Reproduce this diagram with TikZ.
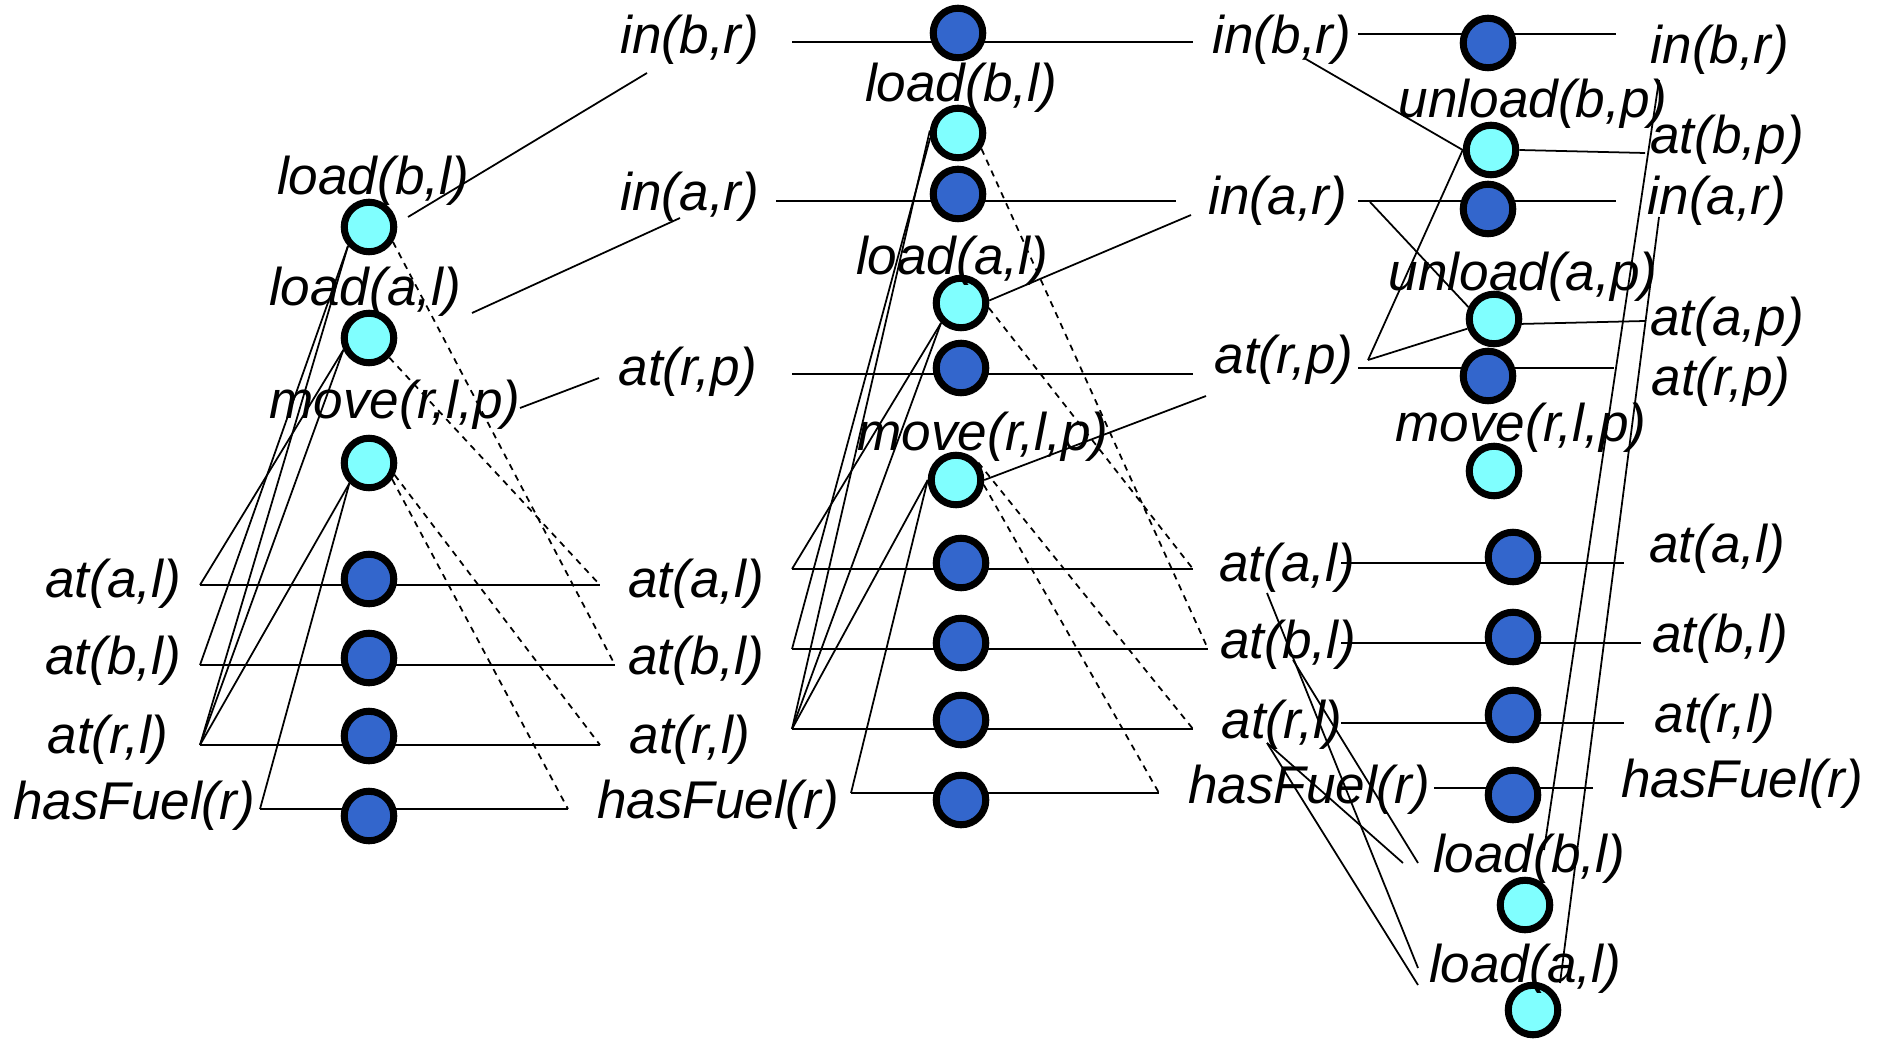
\documentclass[tikz,border=0pt]{standalone}
\usepackage{fontspec}
\newfontfamily\lblfont{Liberation Sans}
\definecolor{factblue}{RGB}{51,102,204}
\definecolor{actcyan}{RGB}{128,255,255}

\tikzset{
    lbl/.style={font=\lblfont\itshape\fontsize{15.1}{18}\selectfont, inner sep=0pt},
    fact/.style={circle, draw=black, line width=2pt, fill=factblue,
        minimum size=0.495cm, inner sep=0pt},
    act/.style={fact, fill=actcyan},
    row/.style={line width=0.8pt},
    pre/.style={line width=0.5pt},
    del/.style={line width=0.5pt, dash pattern=on 1.8pt off 1.6pt}
}

\begin{document}
\begin{tikzpicture}[x=0.01cm, y=-0.01cm]
        \useasboundingbox (0, 0) rectangle (1888, 1040);

        % fact rows: a line through each node
        \foreach \n/\y/\xa/\xb/\nx/\ny in {
            f1al/585/200/600/369/579, f1bl/665/200/615/369/658,
            f1rl/745/200/600/369/736, f1hf/809/260/568/369/816,
            f2br/42/792/1193/958/33, f2ar/201/776/1176/958/194,
            f2rp/374/792/1193/961/368, f2al/569/792/1193/961/563,
            f2bl/649/792/1208/961/643, f2rl/729/792/1193/961/720,
            f2hf/793/851/1159/961/800,
            f3br/34/1358/1616/1488/43, f3ar/201/1358/1616/1488/209,
            f3rp/368/1358/1614/1488/376, f3al/563/1341/1624/1513/557,
            f3bl/643/1341/1641/1513/637, f3rl/723/1341/1624/1513/715,
            f3hf/788/1434/1593/1513/795} {
            \coordinate (\n-w) at (\xa, \y);
            \coordinate (\n-e) at (\xb, \y);
            \draw[row] (\n-w) -- (\n-e);
            \node[fact] (\n) at (\nx, \ny) {};
        }

        % actions
        \foreach \n/\x/\y in {a1b/369/227, a1a/369/338, a1m/369/463,
            a2b/958/133, a2a/961/303, a2m/956/480,
            a3ub/1491/150, a3ua/1494/319, a3m/1494/471,
            a3b/1525/905, a3a/1533/1010}
            \node[act] (\n) at (\x, \y) {};

        % proposition labels
        \foreach \n/\x/\y/\txt in {
            p1al/113/584/{at(a,l)}, p1bl/113/661/{at(b,l)},
            p1rl/108/740/{at(r,l)}, p1hf/134/806/{hasFuel(r)},
            p2br/690/40/{in(b,r)}, p2ar/690/197/{in(a,r)},
            p2rp/688/372/{at(r,p)}, p2al/696/584/{at(a,l)},
            p2bl/696/661/{at(b,l)}, p2rl/690/740/{at(r,l)},
            p2hf/718/805/{hasFuel(r)},
            p3br/1282/40/{in(b,r)}, p3ar/1278/201/{in(a,r)},
            p3rp/1284/360/{at(r,p)}, p3al/1287/568/{at(a,l)},
            p3bl/1288/645/{at(b,l)}, p3rl/1282/725/{at(r,l)},
            p3hf/1309/790/{hasFuel(r)},
            p4br/1720/50/{in(b,r)}, p4bp/1727/140/{at(b,p)},
            p4ar/1717/201/{in(a,r)}, p4ap/1727/322/{at(a,p)},
            p4rp/1721/382/{at(r,p)}, p4al/1717/549/{at(a,l)},
            p4bl/1720/639/{at(b,l)}, p4rl/1715/719/{at(r,l)},
            p4hf/1742/784/{hasFuel(r)}}
            \node[lbl] (\n) at (\x, \y) {\txt};

        % action labels
        \foreach \n/\x/\y/\txt in {
            q1b/373/181/{load(b,l)}, q1a/365/292/{load(a,l)},
            q1m/395/405/{move(r,l,p)},
            q2b/961/88/{load(b,l)}, q2a/952/261/{load(a,l)},
            q2m/983/437/{move(r,l,p)},
            q3ub/1533/104/{unload(b,p)}, q3ua/1523/277/{unload(a,p)},
            q3m/1521/428/{move(r,l,p)}, q3b/1529/859/{load(b,l)},
            q3a/1525/969/{load(a,l)}}
            \node[lbl] (\n) at (\x, \y) {\txt};

        % loose line ends
        \foreach \n/\x/\y in {e1b-s/408/217, e1b-t/647/73,
            e1a-s/472/313, e1a-t/680/218, e1m-s/520/408, e1m-t/599/378,
            e2a-t/1191/215, e2m-t/1206/396,
            e3ub-t/1645/153, e3ua-t/1645/321,
            e3b-s/1544/850, e3b-t/1659/80, e3a-s/1560/983, e3a-t/1659/217,
            c3br/1304/58, c3ar/1370/202, c3rp/1368/360,
            c3al/1267/593, c3bl/1293/660, c3rl/1267/743,
            t3b1/1418/863, t3b2/1403/863, t3a1/1418/968, t3a2/1418/985}
            \coordinate (\n) at (\x, \y);

        % level 1
        \draw[pre] (a1b.222) -- (f1bl-w);
        \draw[pre] (a1b.222) -- (f1rl-w);
        \draw[pre] (a1a.205) -- (f1al-w);
        \draw[pre] (a1a.205) -- (f1rl-w);
        \draw[pre] (a1m.226) -- (f1rl-w);
        \draw[pre] (a1m.226) -- (f1hf-w);
        \draw[pre] (e1b-s) -- (e1b-t);
        \draw[pre] (e1a-s) -- (e1a-t);
        \draw[pre] (e1m-s) -- (e1m-t);
        \draw[del] (a1b.-32) -- (f1bl-e);
        \draw[del] (a1a.-44) -- (f1al-e);
        \draw[del] (a1m.-25) -- (f1rl-e);
        \draw[del] (a1m.-35) -- (f1hf-e);

        % level 2
        \draw[pre] (a2b.190) -- (f2bl-w);
        \draw[pre] (a2b.175) -- (f2rl-w);
        \draw[pre] (a2a.225) -- (f2al-w);
        \draw[pre] (a2a.225) -- (f2rl-w);
        \draw[pre] (a2m.180) -- (f2rl-w);
        \draw[pre] (a2m.180) -- (f2hf-w);
        \draw[pre] (a2a.5) -- (e2a-t);
        \draw[pre] (a2m.0) -- (e2m-t);
        \draw[del] (a2b.-34) -- (f2bl-e);
        \draw[del] (a2a.-10) -- (f2al-e);
        \draw[del] (a2m.38) -- (f2rl-e);
        \draw[del] (a2m.-10) -- (f2hf-e);

        % level 3
        \draw[pre] (c3br) -- (a3ub.west);
        \draw[pre] (c3rp) -- (a3ub.west);
        \draw[pre] (c3rp) -- (a3ua.200);
        \draw[pre] (c3ar) -- (a3ua.155);
        \draw[pre] (a3ub.east) -- (e3ub-t);
        \draw[pre] (a3ua.-10) -- (e3ua-t);
        \draw[pre] (c3al) -- (t3a1);
        \draw[pre] (c3bl) -- (t3b1);
        \draw[pre] (c3rl) -- (t3b2);
        \draw[pre] (c3rl) -- (t3a2);
        \draw[pre] (e3b-s) -- (e3b-t);
        \draw[pre] (e3a-s) -- (e3a-t);

    \end{tikzpicture}
\end{document}
